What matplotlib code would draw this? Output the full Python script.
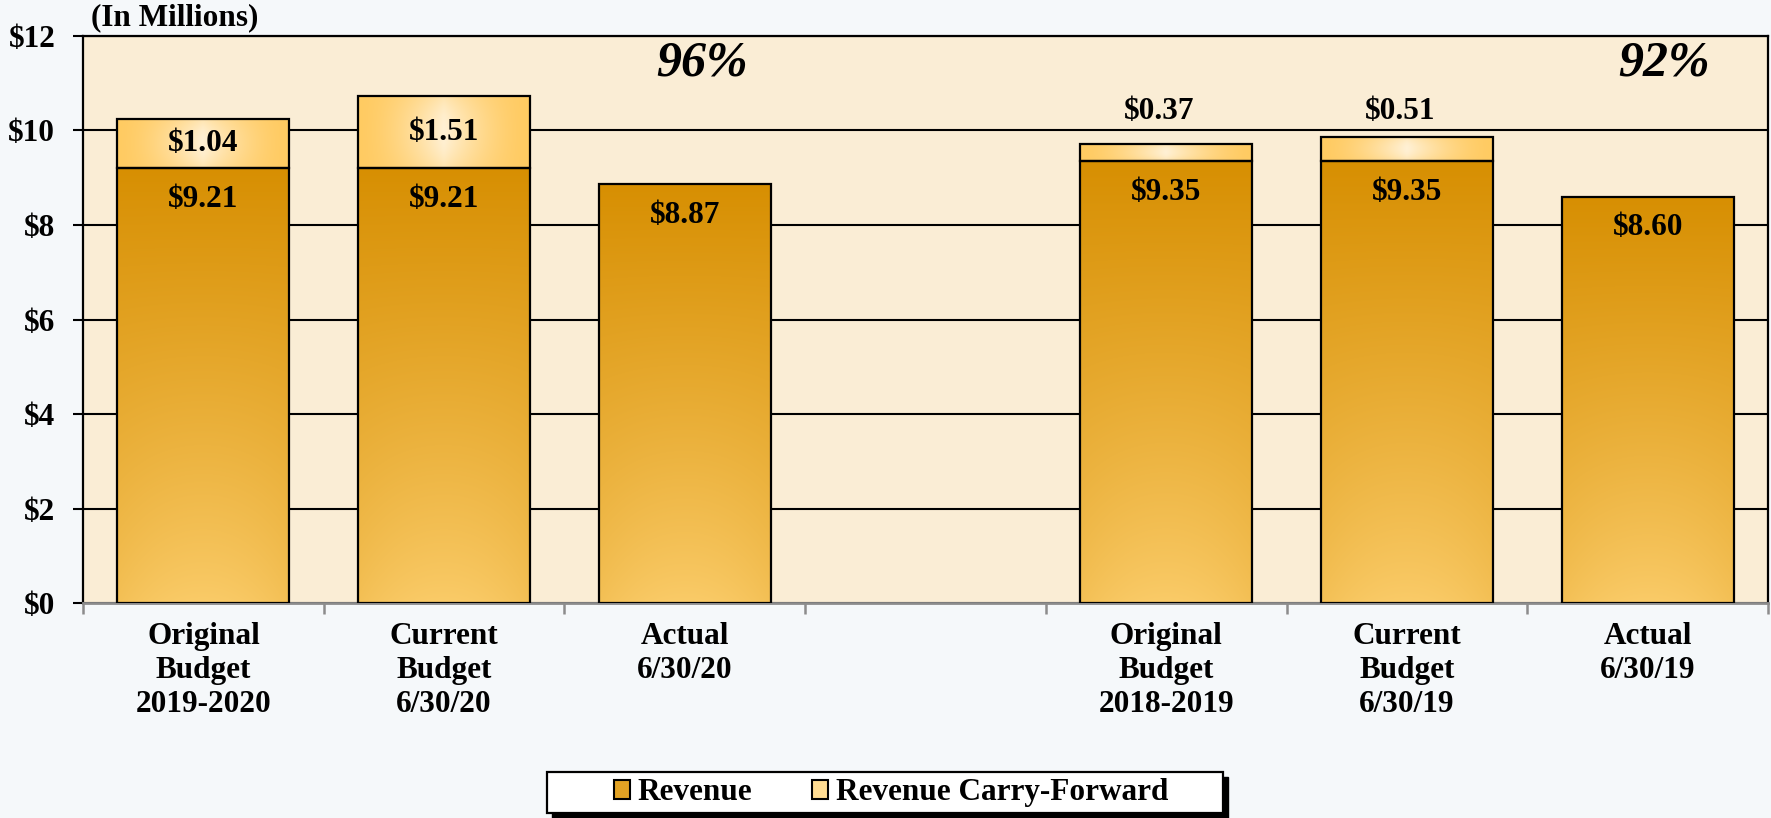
#!/usr/bin/env python3
import numpy as np
import matplotlib
matplotlib.use('Agg')
import matplotlib.pyplot as plt
from matplotlib.patches import Patch, Rectangle

categories = ['Original\nBudget\n2019-2020', 'Current\nBudget\n6/30/20', 'Actual\n6/30/20', '',
              'Original\nBudget\n2018-2019', 'Current\nBudget\n6/30/19', 'Actual\n6/30/19']
revenue = [9.21, 9.21, 8.87, None, 9.35, 9.35, 8.60]
carry_forward = [1.04, 1.51, 0, None, 0.37, 0.51, 0]
pct_labels = ['96%', '92%']
pct_index = [2, 6]
yticks = [0, 2, 4, 6, 8, 10, 12]

plt.rcParams['font.family'] = ['Liberation Serif', 'DejaVu Serif']
plt.rcParams['font.weight'] = 'bold'
FS = 22.5


def hex2rgb(h):
    return np.array(matplotlib.colors.to_rgb(h))


def revenue_img():
    v = np.linspace(0, 1, 200)[:, None]
    u = np.linspace(0, 1, 60)[None, :]
    bottom, top = hex2rgb('#FACB68'), hex2rgb('#D78F02')
    t = v ** 0.9
    img = bottom[None, None, :] * (1 - t[..., None]) + top[None, None, :] * t[..., None]
    e = (np.abs(2 * u - 1) ** 2 * 0.18 * (1 - v))[..., None]
    img = img * (1 - e) + top[None, None, :] * e
    return img


def carry_img():
    v = np.linspace(0, 1, 60)[:, None]
    u = np.linspace(0, 1, 120)[None, :]
    edge, centre = hex2rgb('#FFCB62'), hex2rgb('#FFF1D6')
    f = (1 - np.abs(2 * u - 1)) ** 1.6 * (1 - 0.35 * np.abs(2 * v - 1) ** 2)
    f = f[..., None]
    return edge[None, None, :] * (1 - f) + centre[None, None, :] * f


def fill_gradient(ax, bar, img):
    x0, y0 = bar.get_x(), bar.get_y()
    w, h = bar.get_width(), bar.get_height()
    im = ax.imshow(img, extent=[x0, x0 + w, y0, y0 + h], aspect='auto',
                   origin='lower', interpolation='bicubic', zorder=2.5)
    im.set_clip_path(bar)


fig = plt.figure(figsize=(17.71, 8.18), dpi=100, facecolor='#F5F8FA')
ax = fig.add_axes([0.0469, 0.2628, 0.9514, 0.6932])
ax.set_facecolor('#FAEDD5')

x = np.arange(len(categories))
width = 0.714
for i in x:
    if revenue[i] is None:
        continue
    b = ax.bar(i, revenue[i], width, facecolor='none', edgecolor='black', lw=1.6, zorder=3)[0]
    fill_gradient(ax, b, revenue_img())
    ax.text(i, revenue[i] - 0.66, '$%.2f' % revenue[i], ha='center', va='center',
            fontsize=FS, fontweight='bold', zorder=5)
    if carry_forward[i]:
        c = ax.bar(i, carry_forward[i], width, bottom=revenue[i], facecolor='none',
                   edgecolor='black', lw=1.6, zorder=3)[0]
        fill_gradient(ax, c, carry_img())
        top = revenue[i] + carry_forward[i]
        if carry_forward[i] > 0.8:
            tx, ty = i, revenue[i] + carry_forward[i] / 2
        else:
            # small segments get their label above the bar
            tx, ty = i - 0.03, max(top + 0.5, 10.4)
        ax.text(tx, ty, '$%.2f' % carry_forward[i], ha='center', va='center',
                fontsize=FS, fontweight='bold', zorder=5)

for lab, i in zip(pct_labels, pct_index):
    ax.text(i + 0.07, 11.42, lab, ha='center', va='center', fontsize=36,
            fontweight='bold', style='italic', zorder=5)

ax.set_xlim(-0.5, len(categories) - 0.5)
ax.set_ylim(0, 12)
ax.set_yticks(yticks)
ax.set_yticklabels(['$%d' % t for t in yticks], fontsize=FS, fontweight='bold')
ax.tick_params(axis='y', length=7, width=1.5, color='black', pad=13)
ax.yaxis.grid(True, color='black', lw=1.5, zorder=0)
ax.set_axisbelow(True)

ax.set_xticks(np.arange(len(categories) + 1) - 0.5)
ax.set_xticklabels([])
ax.set_xticks(x, minor=True)
ax.set_xticklabels(categories, minor=True, fontsize=FS, fontweight='bold', linespacing=1.22)
ax.tick_params(axis='x', which='major', length=8, width=1.8, color='#8C8C8C')
ax.tick_params(axis='x', which='minor', length=0, pad=14)

for s in ['left', 'top', 'right']:
    ax.spines[s].set_color('black')
    ax.spines[s].set_linewidth(1.6)
ax.spines['bottom'].set_color('#8C8C8C')
ax.spines['bottom'].set_linewidth(2)

fig.text(0.0514, 0.978, '(In Millions)', ha='left', va='center', fontsize=FS, fontweight='bold')

# legend frame with hard shadow
bx, by, bw, bh = 0.3089, 0.0061, 0.3817, 0.0501
fig.patches.append(Rectangle((bx + 5 / 1771, by - 5 / 818), bw, bh, transform=fig.transFigure,
                             facecolor='black', edgecolor='black', zorder=0))
fig.patches.append(Rectangle((bx, by), bw, bh, transform=fig.transFigure,
                             facecolor='white', edgecolor='black', lw=1.6, zorder=1))
handles = [Patch(facecolor='#E2A224', edgecolor='black', lw=1.5, label='Revenue'),
           Patch(facecolor='#FFDC92', edgecolor='black', lw=1.5, label='Revenue Carry-Forward')]
fig.legend(handles=handles, loc='center', bbox_to_anchor=(0.503, 0.031), ncol=2,
           frameon=False, fontsize=FS, handlelength=0.52, handleheight=0.55,
           handletextpad=0.25, columnspacing=1.9, borderpad=0.1,
           prop={'weight': 'bold', 'size': FS})

fig.savefig('out.png', dpi=100, facecolor=fig.get_facecolor())
